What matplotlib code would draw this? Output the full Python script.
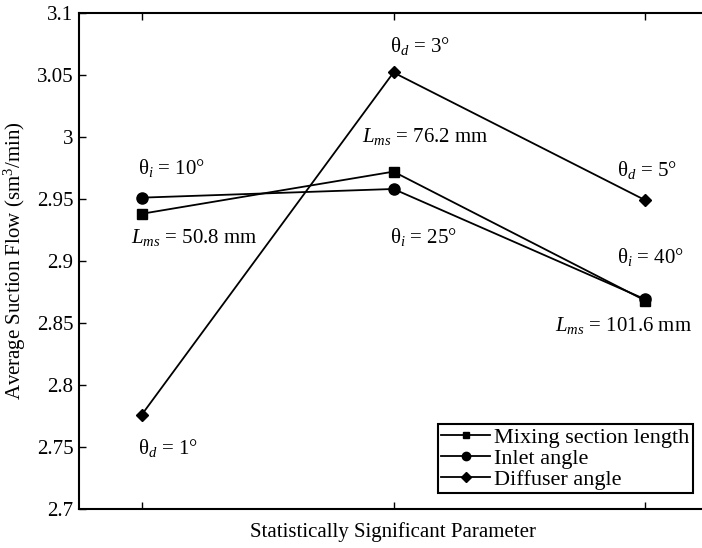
import matplotlib
matplotlib.use("Agg")
import matplotlib.pyplot as plt

plt.rcParams["font.family"] = ["Liberation Serif", "DejaVu Serif"]
plt.rcParams["mathtext.fontset"] = "custom"
plt.rcParams["mathtext.rm"] = "Liberation Serif"
plt.rcParams["mathtext.it"] = "Liberation Serif:italic"
plt.rcParams["font.size"] = 15

# Levels of each parameter (low / mid / high)
levels = [1, 2, 3]
mixing_length = [2.938, 2.972, 2.868]
inlet_angle = [2.951, 2.958, 2.869]
diffuser_angle = [2.776, 3.052, 2.949]

series_names = ["Mixing section length", "Inlet angle", "Diffuser angle"]

# Level annotations: (text, x, y)
level_labels = [
    ("θ$_{i}$ = 10°", 0.985, 2.975),
    ("$L_{ms}$ = 50.8 mm", 0.955, 2.919),
    ("θ$_{d}$ = 1°", 0.985, 2.749),
    ("θ$_{d}$ = 3°", 1.985, 3.073),
    ("$L_{ms}$ = 76.2 mm", 1.874, 3.000),
    ("θ$_{i}$ = 25°", 1.985, 2.919),
    ("θ$_{d}$ = 5°", 2.887, 2.973),
    ("θ$_{i}$ = 40°", 2.887, 2.903),
    ("$L_{ms}$ = 101.6 mm", 2.64, 2.848),
]

yticks = [2.7, 2.75, 2.8, 2.85, 2.9, 2.95, 3.0, 3.05, 3.1]
ytick_labels = ["2.7", "2.75", "2.8", "2.85", "2.9", "2.95", "3", "3.05", "3.1"]

fig = plt.figure(figsize=(7.02, 5.48), dpi=100)
ax = fig.add_axes([79 / 702, 39.3 / 548, (708 - 79) / 702, (508.7 - 13) / 548])

lw = 1.3
ax.plot(levels, mixing_length, color="black", lw=lw, marker="s", ms=6.5,
        label=series_names[0])
ax.plot(levels, inlet_angle, color="black", lw=lw, marker="o", ms=8,
        label=series_names[1])
ax.plot(levels, diffuser_angle, color="black", lw=lw, marker="D", ms=6.5,
        label=series_names[2])

for text, x, y in level_labels:
    ax.text(x, y, text, ha="left", va="center", fontsize=15)

ax.set_xlim(0.75, 3.25)
ax.set_ylim(2.7, 3.1)
ax.set_xticks(levels)
ax.set_xticklabels([])
ax.set_yticks(yticks)
ax.set_yticklabels(ytick_labels)
ax.tick_params(direction="in", top=True, right=False, length=5, width=1,
               labelsize=15, pad=4)
ax.spines["right"].set_visible(False)
for s in ["left", "top", "bottom"]:
    ax.spines[s].set_linewidth(1.5)

ax.set_xlabel("Statistically Significant Parameter", fontsize=15, labelpad=6)
ax.set_ylabel("Average Suction Flow (sm$^{3}$/min)", fontsize=15, labelpad=6)

leg = ax.legend(loc="lower right", bbox_to_anchor=(693 / 702, 55 / 548),
                bbox_transform=fig.transFigure, fancybox=False,
                edgecolor="black", framealpha=1, handlelength=2.2,
                handletextpad=0.2, borderpad=0.15, labelspacing=0.02,
                borderaxespad=0, fontsize=16, markerscale=0.75)
leg.get_frame().set_linewidth(1.5)

fig.savefig("out.png", dpi=100)
